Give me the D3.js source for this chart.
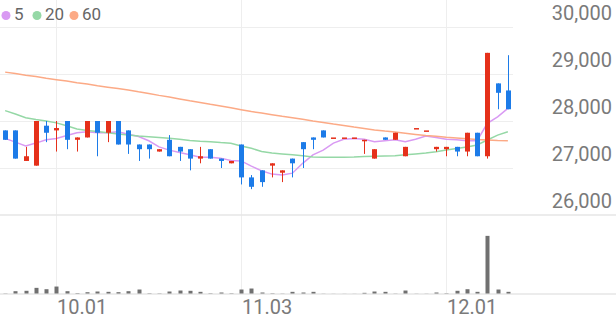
<!DOCTYPE html>
<html>
<head>
<meta charset="utf-8">
<script src="https://cdn.jsdelivr.net/npm/d3@7"></script>
<style>
  body { margin: 0; background: #fff; }
  #chart text { font-family: Roboto, "Noto Sans", sans-serif; }
</style>
</head>
<body>
<div id="chart"></div>
<script>
// trading days (MM.DD)
var dates = ["09.24","09.25","09.26","09.29","09.30","10.01","10.02","10.10","10.13","10.14",
  "10.15","10.16","10.17","10.20","10.21","10.22","10.23","10.24","10.27","10.28",
  "10.29","10.30","10.31","11.03","11.04","11.05","11.06","11.07","11.10","11.11",
  "11.12","11.13","11.14","11.17","11.18","11.19","11.20","11.21","11.24","11.25",
  "11.26","11.27","11.28","12.01","12.02","12.03","12.04","12.05","12.08","12.09"];

var open = [27800,27800,27150,27050,27900,27800,28000,27600,27650,28000,
  27750,28000,27800,27500,27500,27350,27600,27450,27400,27200,
  27400,27200,27100,27500,26800,26950,27050,26900,27200,27550,
  27650,27800,27650,27650,27650,27600,27200,27650,27600,27250,
  27850,27800,27400,27400,27450,27350,27750,27250,28800,28650];
var high = [27800,27800,27450,28000,28000,28000,28000,27650,28000,28000,
  28000,28000,27800,27500,27500,27400,27700,27450,27400,27450,
  27400,27200,27150,27500,26850,26950,27100,26950,27200,27550,
  27650,27800,27650,27650,27650,27600,27400,27650,27750,27450,
  27850,27800,27450,27450,27450,27750,27750,29450,28800,29400];
var low = [27600,27200,27150,27050,27550,27350,27400,27350,27650,27250,
  27550,27500,27300,27150,27200,27350,27250,27150,26950,27100,
  27200,27000,27100,26650,26550,26600,26800,26700,26800,27000,
  27400,27650,27650,27650,27650,27300,27200,27600,27600,27250,
  27850,27800,27350,27250,27250,27250,27250,27200,28250,28250];
var close = [27600,27200,27250,28000,27750,27850,27600,27650,28000,27750,
  28000,27500,27500,27400,27400,27400,27250,27350,27200,27250,
  27200,27150,27150,26800,26600,26700,27100,26950,27100,27400,
  27600,27650,27650,27650,27650,27600,27400,27600,27750,27450,
  27850,27800,27450,27450,27350,27750,27250,29450,28600,28250];

var volume = [5000,58000,68000,142000,108000,175000,58000,10000,32000,50000,
  42000,33000,58000,100000,8000,6000,50000,75000,68000,42000,
  8000,25000,8000,100000,125000,25000,8000,4000,42000,25000,
  42000,3000,2000,2000,2000,17000,50000,42000,4000,75000,
  3000,3000,25000,8000,68000,108000,42000,1450000,100000,42000];

// moving averages
var ma5 = [27630,27550,27470,27530,27600,27630,27690,27750,27770,27750,
  27750,27770,27720,27670,27580,27450,27380,27330,27280,27230,
  27230,27210,27160,27150,27040,26940,26870,26850,26890,27100,
  27280,27380,27530,27610,27630,27610,27560,27580,27600,27560,
  27610,27680,27650,27610,27600,27580,27580,27950,28090,28270];
var ma20 = [28220,28150,28070,28030,28000,27960,27900,27830,27800,27775,
  27750,27725,27700,27680,27665,27650,27635,27610,27585,27570,
  27560,27540,27525,27470,27420,27350,27320,27300,27280,27260,
  27235,27230,27228,27230,27235,27245,27250,27255,27260,27280,
  27300,27320,27347,27383,27415,27447,27490,27596,27700,27773];
var ma60 = [29040,29010,28975,28945,28910,28880,28850,28815,28785,28750,
  28720,28690,28660,28620,28585,28545,28510,28470,28430,28395,
  28355,28320,28280,28240,28200,28170,28135,28100,28070,28035,
  28000,27970,27935,27905,27870,27840,27810,27785,27765,27740,
  27715,27690,27675,27655,27640,27620,27605,27595,27585,27580];

var priceTicks = [26000,27000,28000,29000,30000];
var dateTicks = ["10.01","11.03","12.01"];
var maNames = ["5","20","60"];

function init(){
  var w = 616, h = 321;
  var plotRight = 513;

  var svg = d3.select("#chart")
    .append("svg")
      .attr("width", w)
      .attr("height", h);

  var x = d3.scaleBand()
    .domain(dates)
    .range([0, plotRight])
    .padding(0);
  var cx = function(d){ return x(d) + x.bandwidth() / 2; };

  var y = d3.scaleLinear()
    .domain([26000, 30000])
    .range([215, 27]);

  var vy = d3.scaleLinear()
    .domain([0, d3.max(volume) * 79 / 58])
    .range([293.5, 215]);

  var maColor = d3.scaleOrdinal()
    .domain(maNames)
    .range(["#d99af3", "#95d8a6", "#fcaa86"]);
  var up = "#e5301a", down = "#1c7be8";

  // horizontal grid for price pane
  svg.append("g")
    .selectAll("line")
    .data(priceTicks.slice(1))
    .enter().append("line")
      .attr("x1", 0).attr("x2", plotRight)
      .attr("y1", function(d){ return Math.round(y(d)) + 0.5; })
      .attr("y2", function(d){ return Math.round(y(d)) + 0.5; })
      .attr("stroke", "#eeeeee");

  // vertical grid at month starts
  svg.append("g")
    .selectAll("line")
    .data(dateTicks)
    .enter().append("line")
      .attr("x1", function(d){ return Math.round(cx(d)) + 0.5; })
      .attr("x2", function(d){ return Math.round(cx(d)) + 0.5; })
      .attr("y1", 0).attr("y2", 293)
      .attr("stroke", "#eeeeee");

  // pane separators
  svg.append("line")
    .attr("x1", 0).attr("x2", w)
    .attr("y1", y(26000)).attr("y2", y(26000))
    .attr("stroke", "#e6e6e6").attr("stroke-width", 1.5);
  svg.append("line")
    .attr("x1", 0).attr("x2", w)
    .attr("y1", 294).attr("y2", 294)
    .attr("stroke", "#e6e6e6").attr("stroke-width", 1.5);

  // price labels (right side, sitting above their grid line)
  svg.append("g")
    .selectAll("text")
    .data(priceTicks)
    .enter().append("text")
      .attr("x", 612)
      .attr("y", function(d){ return y(d) - 12; })
      .attr("text-anchor", "end")
      .attr("dominant-baseline", "middle")
      .attr("fill", "#7a7a7a")
      .style("font-size", "20px")
      .text(function(d){ return d3.format(",")(d); });

  // date labels, starting at their grid line
  svg.append("g")
    .selectAll("text")
    .data(dateTicks)
    .enter().append("text")
      .attr("x", function(d){ return Math.round(cx(d)) + 1; })
      .attr("y", 309)
      .attr("text-anchor", "start")
      .attr("dominant-baseline", "middle")
      .attr("fill", "#7a7a7a")
      .style("font-size", "20px")
      .text(function(d){ return d; });

  // moving average lines
  var maSeries = [ma5, ma20, ma60];
  var line = d3.line()
    .x(function(d, i){ return cx(dates[i]); })
    .y(function(d){ return y(d); });
  svg.append("g")
    .selectAll("path")
    .data(maSeries)
    .enter().append("path")
      .attr("d", function(d){ return line(d); })
      .attr("fill", "none")
      .attr("stroke", function(d, i){ return maColor(maNames[i]); })
      .attr("stroke-width", 1.5);

  // candles
  var idx = d3.range(dates.length);
  var candle = svg.append("g")
    .selectAll("g")
    .data(idx)
    .enter().append("g")
      .attr("fill", function(i){ return close[i] >= open[i] ? up : down; })
      .attr("stroke", function(i){ return close[i] >= open[i] ? up : down; });
  candle.append("line")
    .attr("x1", function(i){ return Math.round(cx(dates[i])) + 0.5; })
    .attr("x2", function(i){ return Math.round(cx(dates[i])) + 0.5; })
    .attr("y1", function(i){ return y(high[i]); })
    .attr("y2", function(i){ return y(low[i]); })
    .attr("stroke-width", 1);
  candle.append("rect")
    .attr("x", function(i){ return Math.round(cx(dates[i])) - 2; })
    .attr("width", 5)
    .attr("y", function(i){ return y(Math.max(open[i], close[i])); })
    .attr("height", function(i){ return Math.max(1.5, Math.abs(y(open[i]) - y(close[i]))); })
    .attr("stroke", "none");

  // volume bars
  svg.append("g")
    .selectAll("rect")
    .data(idx)
    .enter().append("rect")
      .attr("x", function(i){ return Math.round(cx(dates[i])) - 1.5; })
      .attr("width", 4)
      .attr("y", function(i){ return vy(volume[i]); })
      .attr("height", function(i){ return 293.5 - vy(volume[i]); })
      .attr("fill", "#707070");

  // legend
  var legX = [6, 37, 74];
  var leg = svg.append("g")
    .selectAll("g")
    .data(maNames)
    .enter().append("g")
      .attr("transform", function(d, i){ return "translate(" + legX[i] + ",15.5)"; });
  leg.append("circle")
    .attr("r", 4.5)
    .attr("fill", function(d){ return maColor(d); });
  leg.append("text")
    .attr("x", 8)
    .attr("dominant-baseline", "middle")
    .attr("fill", "#666")
    .style("font-size", "17px")
    .text(function(d){ return d; });
}
window.onload = init;
</script>
</body>
</html>
